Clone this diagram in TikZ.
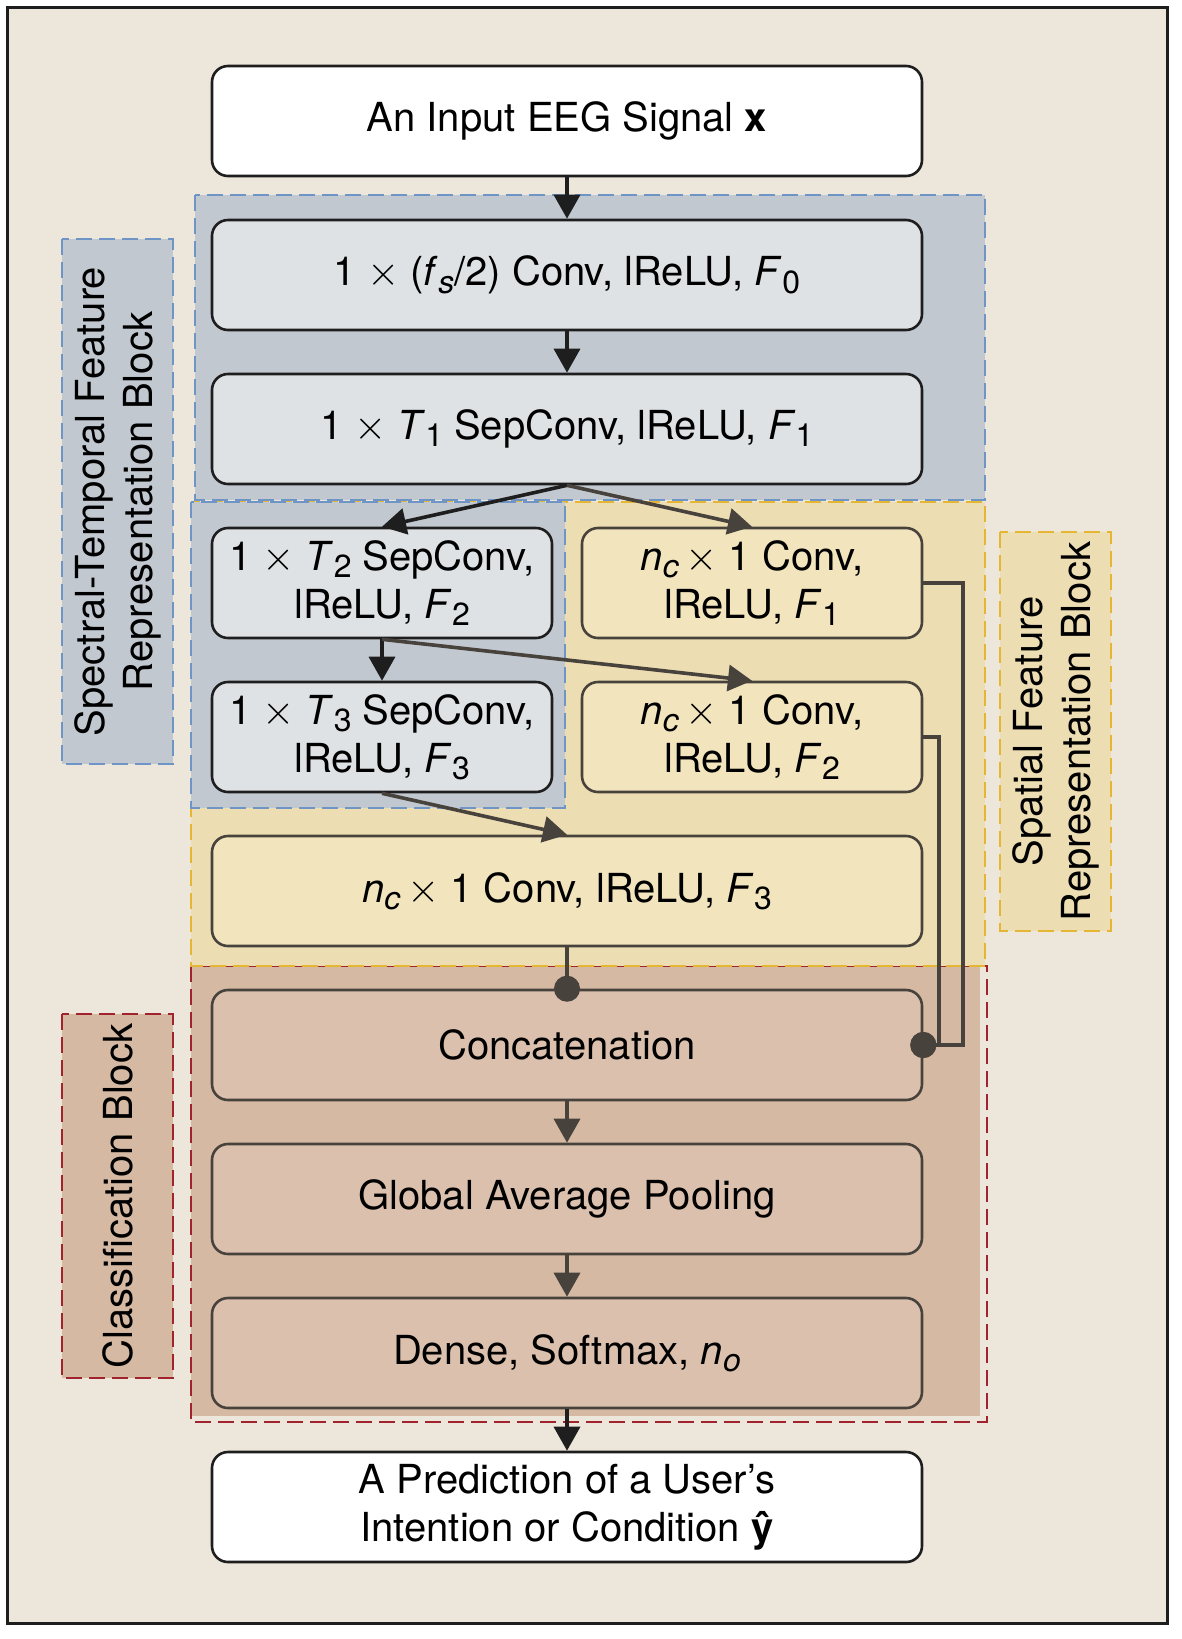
\documentclass[tikz,border=0pt]{standalone}
\usepackage{fontspec}
\setmainfont{TeX Gyre Heros}
\usepackage{xcolor}
\usetikzlibrary{arrows.meta,positioning,backgrounds}
\definecolor{ink}{HTML}{1E1E1E}
\definecolor{muted}{HTML}{48423D}
\definecolor{pagebg}{HTML}{EDE6DA}
\definecolor{streg}{HTML}{C1C8D0}
\definecolor{stfill}{HTML}{DFE2E5}
\definecolor{streak}{HTML}{6F95C6}
\definecolor{spreg}{HTML}{EDDDB3}
\definecolor{spfill}{HTML}{F2E5BD}
\definecolor{spstreak}{HTML}{E5B634}
\definecolor{clreg}{HTML}{D5B9A2}
\definecolor{clfill}{HTML}{DBC0AD}
\definecolor{clstreak}{HTML}{A0232E}
\newcommand{\lo}[1]{\raisebox{-0.35ex}{\fontsize{16pt}{16pt}\selectfont #1}}
\newcommand{\tms}{\ensuremath{\times}}
\begin{document}
\begin{tikzpicture}[font=\fontsize{20pt}{24pt}\selectfont, >={Triangle[length=12pt,width=13pt]}, node distance=20.7pt]
\tikzset{box/.style={draw=ink, rounded corners=8pt, line width=1.3pt, minimum height=55pt, minimum width=355pt, align=center, fill=white}, half/.style={minimum width=170pt}, stb/.style={box, fill=stfill}, spb/.style={box, fill=spfill, draw=muted}, clb/.style={box, fill=clfill, draw=muted}, lbl/.style={rotate=90, align=center, minimum height=55.5pt, line width=1pt, dash pattern=on 8pt off 3.5pt}, region/.style={line width=1pt, dash pattern=on 8pt off 3.5pt}, arr/.style={->, line width=1.8pt, draw=ink}, dotarr/.style={-{Circle[length=13pt]}, line width=2pt, draw=muted, shorten >=-6.5pt}}
\useasboundingbox (0,0) rectangle (591pt,-819.5pt);
\node[box] (input) at (283.5pt,-60.5pt) {An Input EEG Signal \textbf{x}};
\node[stb, below=of input] (f0) {1 \tms{} (\textit{f}\lo{\textit{s}}/2) Conv, lReLU, \textit{F}\lo{0}};
\node[stb, below=of f0] (f1) {1 \tms{} \textit{T}\lo{1} SepConv, lReLU, \textit{F}\lo{1}};
\node[stb, half, below right=20.7pt and 0pt of f1.south west] (t2) {1 \tms{} \textit{T}\lo{2} SepConv,\\lReLU, \textit{F}\lo{2}};
\node[spb, half, right=13.7pt of t2] (s1) {\textit{n}\lo{\textit{c}}\,\tms{} 1 Conv,\\lReLU, \textit{F}\lo{1}};
\node[stb, half, below=of t2] (t3) {1 \tms{} \textit{T}\lo{3} SepConv,\\lReLU, \textit{F}\lo{3}};
\node[spb, half, below=of s1] (s2) {\textit{n}\lo{\textit{c}}\,\tms{} 1 Conv,\\lReLU, \textit{F}\lo{2}};
\node[spb, below right=20.7pt and 0pt of t3.south west] (s3) {\textit{n}\lo{\textit{c}}\,\tms{} 1 Conv, lReLU, \textit{F}\lo{3}};
\node[clb, below=of s3] (cat) {Concatenation};
\node[clb, below=of cat] (gap) {Global Average Pooling};
\node[clb, below=of gap] (dense) {Dense, Softmax, \textit{n}\lo{\textit{o}}};
\node[box, below=of dense] (output) {A Prediction of a User’s\\Intention or Condition \textbf{ŷ}};
\node[lbl, fill=streg, draw=streak, minimum width=262.5pt] (stlabel) at (58.75pt,-250.75pt) {Spectral-Temporal Feature\\Representation Block};
\node[lbl, fill=spreg, draw=spstreak, minimum width=199.5pt] (splabel) at (527.75pt,-365.75pt) {Spatial Feature\\Representation Block};
\node[lbl, fill=clreg, draw=clstreak, minimum width=182pt] (cllabel) at (58.75pt,-598pt) {Classification Block};
\begin{scope}[on background layer]
\fill[white] (0,0) rectangle (591pt,-819.5pt);
\draw[line width=1.5pt, draw=ink, fill=pagebg] (3.5pt,-3.5pt) rectangle (583.5pt,-811.5pt);
\fill[clreg] (95.5pt,-483pt) rectangle (490pt,-708pt);
\draw[region, draw=clstreak] (95.5pt,-483pt) rectangle (493.5pt,-711pt);
\draw[region, draw=spstreak, fill=spreg] (95.5pt,-251pt) rectangle (492.5pt,-483pt);
\draw[region, draw=streak, fill=streg] (95.5pt,-251pt) rectangle (282.5pt,-404pt);
\draw[region, draw=streak, fill=streg] (97.5pt,-97.5pt) rectangle (492.5pt,-250pt);
\end{scope}
\draw[arr] (input) -- (f0); \draw[arr] (f0) -- (f1); \draw[arr] (f1.south) -- (t2.north); \draw[arr, draw=muted] (f1.south) -- (s1.north);
\draw[arr] (t2.south) -- (t3.north); \draw[arr, draw=muted] (t2.south) -- (s2.north); \draw[arr, draw=muted] (t3.south) -- (s3.north);
\draw[dotarr] (s3) -- (cat); \draw[dotarr] (s1.east) -- ++(20pt,0) |- (cat.east); \draw[dotarr] (s2.east) -- ++(8pt,0) |- (cat.east);
\draw[arr, draw=muted] (cat) -- (gap); \draw[arr, draw=muted] (gap) -- (dense); \draw[arr] (dense) -- (output);
\end{tikzpicture}
\end{document}
